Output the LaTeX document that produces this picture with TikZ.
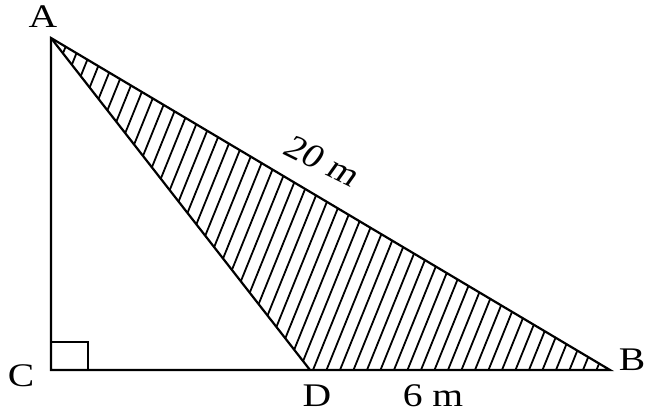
\documentclass[tikz,border=0pt]{standalone}
\usepackage{fontspec}
\setmainfont{Liberation Serif}
\begin{document}
\begin{tikzpicture}[x=1pt,y=1pt,
  edge/.style={line width=2.2pt,line join=miter},
  hatch/.style={line width=1.8pt},
  lbl/.style={font=\fontsize{33}{33}\selectfont,inner sep=0pt,xscale=1.2}]
\useasboundingbox (0,0) rectangle (646,417);
\coordinate (A) at (51,379);
\coordinate (C) at (51,47);
\coordinate (B) at (610,47);
\coordinate (D) at (310,47);
% hatching
\begin{scope}
  \clip (A) -- (D) -- (B) -- cycle;
  \foreach \x in {-200,-186.5,...,640}
    \draw[hatch] (\x,47) -- ++(68:420);
\end{scope}
% outline
\draw[edge] (A) -- (C) -- (B) -- cycle;
\draw[edge] (A) -- (D);
\draw[line width=2pt] (51,75) -- (88,75) -- (88,47);
% labels
\node[lbl] (lA) at (43,400) {A};
\node[lbl] (lC) at (21,41) {C};
\node[lbl] (lB) at (632,57) {B};
\node[lbl] (lD) at (317,21) {D};
\node[lbl] (l6) at (433,21) {6 m};
\node[lbl,rotate=-30.7] (l20) at (323,256) {20 m};
\end{tikzpicture}
\end{document}
